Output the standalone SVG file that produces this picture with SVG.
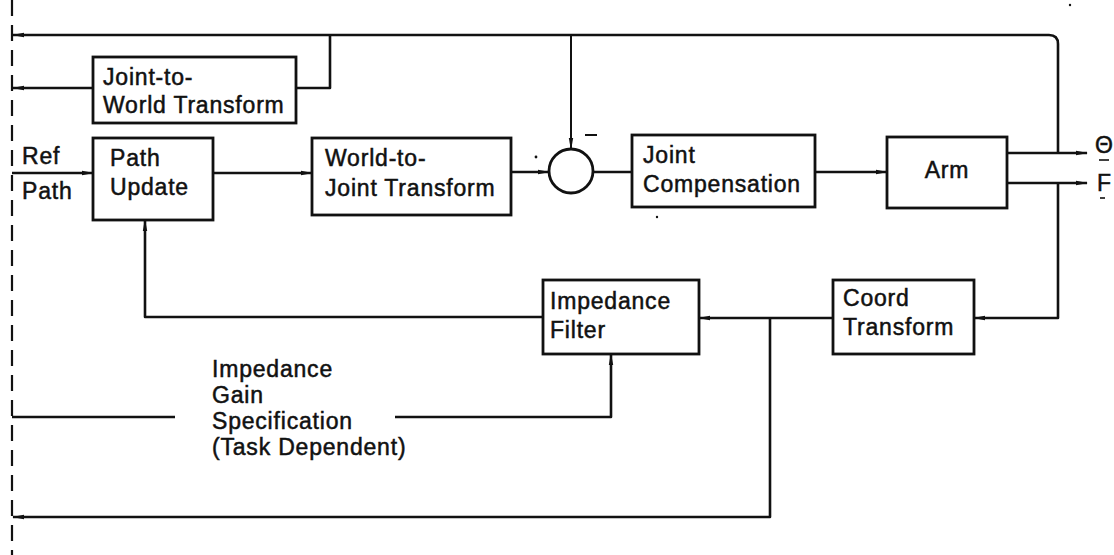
<svg xmlns="http://www.w3.org/2000/svg" width="1114" height="555" viewBox="0 0 1114 555">
<style>
.box{fill:#fff;stroke:#111;stroke-width:2.8}
.ln{fill:none;stroke:#111;stroke-width:2.6;stroke-linejoin:round}
.thin{fill:none;stroke:#111;stroke-width:2}
.t{font-family:"Liberation Sans",Arial,Helvetica,sans-serif;font-size:23px;fill:#111;stroke:#111;stroke-width:0.5;letter-spacing:0.8px}
.dash{fill:none;stroke:#111;stroke-width:2.2;stroke-dasharray:16 9}
</style>
<defs>
<marker id="ah" viewBox="0 0 12 6" refX="11" refY="3" markerWidth="12" markerHeight="6" markerUnits="userSpaceOnUse" orient="auto">
<path d="M0,0.8 L12,3 L0,5.2 Z" fill="#111"/>
</marker>
</defs>
<rect width="1114" height="555" fill="#fff"/>
<line class="dash" x1="12" y1="0" x2="12" y2="555"/>
<g id="connectors">
<path class="ln" d="M1058,153 V44 Q1058,35 1049,35 H13" marker-end="url(#ah)"/>
<path class="ln" d="M330,35 V88 H296"/>
<path class="ln" d="M93,88 H13" marker-end="url(#ah)"/>
<path class="ln" d="M12,173 H93" marker-end="url(#ah)"/>
<path class="ln" d="M213,173 H312" marker-end="url(#ah)"/>
<path class="ln" d="M511,172 H549" marker-end="url(#ah)"/>
<path class="thin" d="M571,35 V149" marker-end="url(#ah)"/>
<path class="ln" d="M593,172 H632"/>
<path class="ln" d="M815,172 H887" marker-end="url(#ah)"/>
<path class="ln" d="M1007,153 H1087" marker-end="url(#ah)"/>
<path class="ln" d="M1007,183 H1087" marker-end="url(#ah)"/>
<path class="ln" d="M1058,183 V318 H974" marker-end="url(#ah)"/>
<path class="ln" d="M833,318 H699" marker-end="url(#ah)"/>
<path class="ln" d="M770,318 V517 H13" marker-end="url(#ah)"/>
<path class="ln" d="M543,317 H145 V220" marker-end="url(#ah)"/>
<path class="ln" d="M12,417 H175"/>
<path class="ln" d="M395,417 H611 V354" marker-end="url(#ah)"/>
</g>
<g id="joint-to-world">
<rect class="box" x="93" y="57" width="203" height="66"/>
<text class="t" x="103" y="85">Joint-to-</text>
<text class="t" x="103" y="113">World Transform</text>
</g>
<g id="path-update">
<rect class="box" x="93" y="138" width="120" height="82"/>
<text class="t" x="110" y="166">Path</text>
<text class="t" x="110" y="195">Update</text>
</g>
<g id="ref-path">
<text class="t" x="22" y="164">Ref</text>
<text class="t" x="22" y="199">Path</text>
</g>
<g id="world-to-joint">
<rect class="box" x="312" y="138" width="199" height="77"/>
<text class="t" x="325" y="166">World-to-</text>
<text class="t" x="325" y="196">Joint Transform</text>
</g>
<g id="sum">
<circle cx="571" cy="171" r="22" fill="#fff" stroke="#111" stroke-width="2.8"/>
<line x1="585" y1="135" x2="597" y2="135" stroke="#111" stroke-width="2"/>
<circle cx="536" cy="157" r="1.4" fill="#111"/>
</g>
<g id="joint-compensation">
<rect class="box" x="632" y="135" width="183" height="72"/>
<text class="t" x="643" y="163">Joint</text>
<text class="t" x="643" y="192">Compensation</text>
<circle cx="657" cy="217" r="1.2" fill="#111"/>
</g>
<g id="arm">
<rect class="box" x="887" y="137" width="120" height="71"/>
<text class="t" x="947" y="178" text-anchor="middle">Arm</text>
</g>
<g id="outputs">
<text class="t" x="1104" y="153" text-anchor="middle" style="letter-spacing:0">Θ</text>
<line x1="1099" y1="160" x2="1109" y2="160" stroke="#111" stroke-width="1.6"/>
<text class="t" x="1104" y="191" text-anchor="middle" style="letter-spacing:0">F</text>
<line x1="1100" y1="198" x2="1105" y2="198" stroke="#111" stroke-width="1.6"/>
<circle cx="1070" cy="5" r="1.2" fill="#111"/>
</g>
<g id="impedance-filter">
<rect class="box" x="543" y="280" width="156" height="74"/>
<text class="t" x="550" y="309">Impedance</text>
<text class="t" x="550" y="338">Filter</text>
</g>
<g id="coord-transform">
<rect class="box" x="833" y="280" width="141" height="74"/>
<text class="t" x="843" y="306">Coord</text>
<text class="t" x="843" y="335">Transform</text>
</g>
<g id="gain-spec">
<text class="t" x="212" y="377">Impedance</text>
<text class="t" x="212" y="403">Gain</text>
<text class="t" x="212" y="429">Specification</text>
<text class="t" x="212" y="455">(Task Dependent)</text>
</g>
</svg>
